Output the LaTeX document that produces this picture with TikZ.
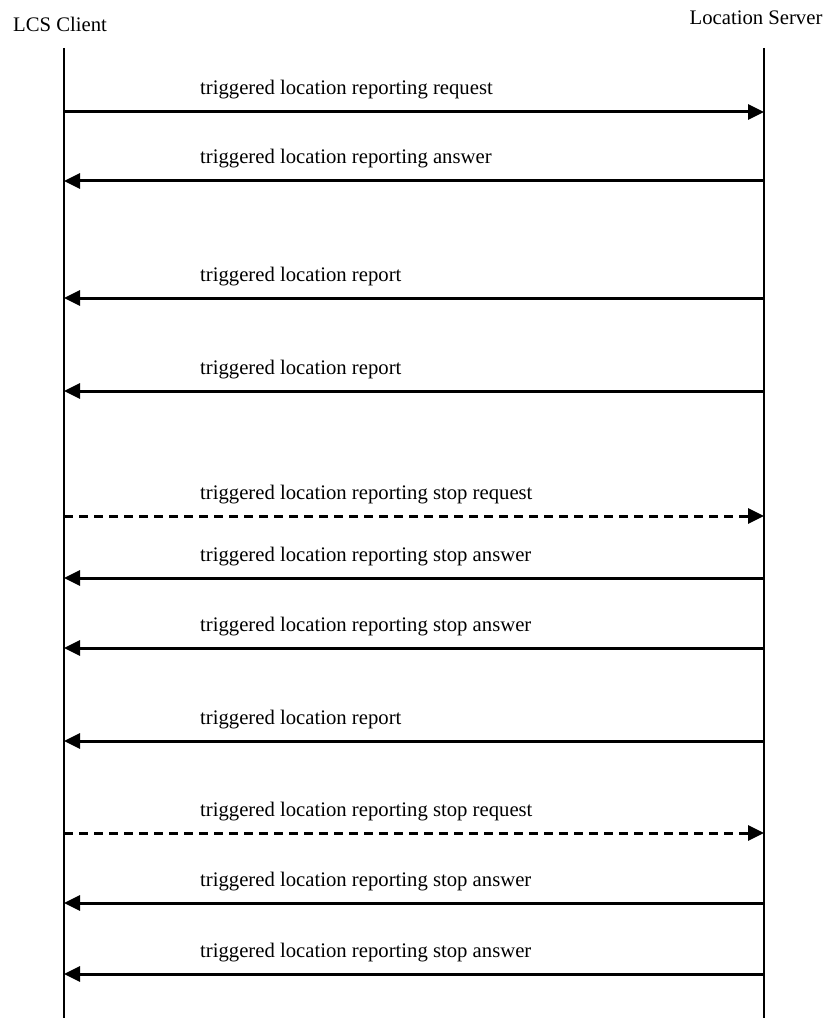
\documentclass[tikz,border=0pt]{standalone}
\usepackage{fontspec}
\setmainfont{Liberation Serif}
\usetikzlibrary{arrows.meta,positioning}

\begin{document}
\begin{tikzpicture}[
    x=1pt,y=1pt,
    every node/.style={font=\fontsize{20.7}{24}\selectfont,inner sep=0pt},
    actor/.style={anchor=base},
    lbl/.style={anchor=base west},
    lifeline/.style={line width=1.6pt},
    msg/.style={line width=3pt,-{Triangle[length=16pt,width=15pt]}},
    stopreq/.style={msg,dash pattern=on 9pt off 6pt}
]
    \useasboundingbox (0,0) rectangle (825,-1019);

    % lifelines
    \node[actor] (client) at (60,-32) {LCS Client};
    \node[actor] (server) at (756,-25) {Location Server};
    \coordinate (ctop) at (64,-48);
    \coordinate (cbot) at (64,-1018);
    \coordinate (stop) at (764,-48);
    \coordinate (sbot) at (764,-1018);
    \draw[lifeline] (ctop) -- (cbot);
    \draw[lifeline] (stop) -- (sbot);

    % messages
    \coordinate (c1) at (64,-112);  \coordinate (s1) at (764,-112);
    \draw[msg] (c1) -- (s1);
    \node[lbl] (m1) at (200,-95) {triggered location reporting request};

    \coordinate (c2) at (64,-181);  \coordinate (s2) at (764,-181);
    \draw[msg] (s2) -- (c2);
    \node[lbl] (m2) at (200,-164) {triggered location reporting answer};

    \coordinate (c3) at (64,-298);  \coordinate (s3) at (764,-298);
    \draw[msg] (s3) -- (c3);
    \node[lbl] (m3) at (200,-281) {triggered location report};

    \coordinate (c4) at (64,-391);  \coordinate (s4) at (764,-391);
    \draw[msg] (s4) -- (c4);
    \node[lbl] (m4) at (200,-374) {triggered location report};

    \coordinate (c5) at (64,-516);  \coordinate (s5) at (764,-516);
    \draw[stopreq] (c5) -- (s5);
    \node[lbl] (m5) at (200,-499) {triggered location reporting stop request};

    \coordinate (c6) at (64,-578);  \coordinate (s6) at (764,-578);
    \draw[msg] (s6) -- (c6);
    \node[lbl] (m6) at (200,-561) {triggered location reporting stop answer};

    \coordinate (c7) at (64,-648);  \coordinate (s7) at (764,-648);
    \draw[msg] (s7) -- (c7);
    \node[lbl] (m7) at (200,-631) {triggered location reporting stop answer};

    \coordinate (c8) at (64,-741);  \coordinate (s8) at (764,-741);
    \draw[msg] (s8) -- (c8);
    \node[lbl] (m8) at (200,-724) {triggered location report};

    \coordinate (c9) at (64,-833);  \coordinate (s9) at (764,-833);
    \draw[stopreq] (c9) -- (s9);
    \node[lbl] (m9) at (200,-816) {triggered location reporting stop request};

    \coordinate (c10) at (64,-903);  \coordinate (s10) at (764,-903);
    \draw[msg] (s10) -- (c10);
    \node[lbl] (m10) at (200,-886) {triggered location reporting stop answer};

    \coordinate (c11) at (64,-974);  \coordinate (s11) at (764,-974);
    \draw[msg] (s11) -- (c11);
    \node[lbl] (m11) at (200,-957) {triggered location reporting stop answer};
\end{tikzpicture}
\end{document}
